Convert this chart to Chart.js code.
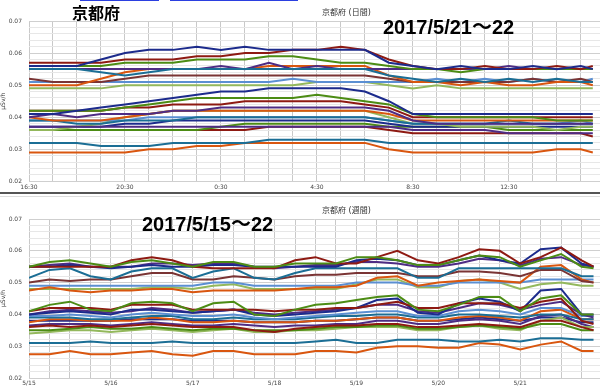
<!DOCTYPE html>
<html>
<head>
<meta charset="utf-8">
<script src="https://cdn.jsdelivr.net/npm/chart.js@4/dist/chart.umd.min.js"></script>
<style>
  html, body { margin: 0; padding: 0; background: #fff; }
  #page { position: relative; width: 600px; height: 390px; overflow: hidden; background: #fff; }
  .panel { position: absolute; left: 0; width: 600px; }
  .big { position: absolute; font-family: "Liberation Sans", "Noto Sans CJK JP", sans-serif; font-weight: bold; color: #000; line-height: 1; white-space: nowrap; }
  .small { position: absolute; font-family: "DejaVu Sans", "Noto Sans CJK JP", sans-serif; font-size: 8px; color: #333; line-height: 1; white-space: nowrap; }
  .bar { position: absolute; }
</style>
</head>
<body>
<div id="page">
  <div class="panel" style="top:0;height:192px"><canvas id="dayChart" width="600" height="192"></canvas></div>
  <div class="panel" style="top:195px;height:195px"><canvas id="weekChart" width="600" height="195"></canvas></div>

  <div class="bar" style="left:80px;top:0;width:79px;height:1px;background:#2b3fe0"></div>
  <div class="bar" style="left:170px;top:0;width:128px;height:1px;background:#2b3fe0"></div>
  <div class="bar" style="left:0;top:192px;width:600px;height:2px;background:#555"></div>
  <div class="bar" style="left:0;top:196px;width:600px;height:1px;background:#ddd"></div>

  <div class="small" style="left:322px;top:9px">京都府 (日間)</div>
  <div class="small" style="left:322px;top:207px">京都府 (週間)</div>
  <div class="big" style="left:72px;top:4px;font-family:'Noto Sans CJK JP',sans-serif;font-size:16px">京都府</div>
  <div class="big" style="left:383px;top:17px;font-size:20px">2017/5/21～22</div>
  <div class="big" style="left:142px;top:214px;font-size:20px">2017/5/15～22</div>
</div>

<script>
// values are in nSv/h (0.001 µSv/h); the axis shows them as µSv/h
const yTickLabels = ['0.02', '0.03', '0.04', '0.05', '0.06', '0.07'];

// ---- daily chart: hours since 5/21 16:30 ----
const dayHours = [0,1,2,3,4,5,6,7,8,9,10,11,12,13,14,15,16,17,18,19,20,21,22,23,23.5];
const dayTickLabels = ['16:30', '20:30', '0:30', '4:30', '8:30', '12:30'];

const dayNavyA     = [56,56,56,58,60,61,61,62,61,62,61,61,61,61,61,57,56,55,56,55,55,56,55,56,55];
const dayRedA      = [57,57,57,57,58,58,58,59,59,60,60,61,61,62,61,58,56,55,55,56,55,55,56,55,56];
const dayGreenA    = [56,56,56,56,57,57,57,58,58,58,59,59,58,57,57,56,55,55,54,55,55,55,55,55,55];
const dayTealA     = [55,55,55,54,53,54,55,55,55,55,55,55,55,55,55,53,52,51,52,51,52,51,52,51,51];
const dayPurpleA   = [55,55,55,55,55,55,55,55,56,55,57,55,56,55,55,55,55,55,55,55,56,55,55,55,55];
const dayOrangeA   = [50,50,50,52,54,55,55,55,55,55,56,56,56,56,56,53,51,51,50,51,50,50,51,51,50];
const dayMaroonA   = [52,51,51,51,52,53,53,53,53,53,53,53,53,53,53,52,51,51,51,51,51,52,51,52,51];
const dayLBlueA    = [51,51,51,51,51,51,51,51,51,51,51,52,51,51,51,51,51,52,51,52,51,52,51,51,52];
const dayLGreenA   = [49,49,49,49,50,50,50,50,50,50,50,50,51,51,51,50,49,50,49,49,49,49,49,49,49];
const dayNavyB     = [41,41,42,43,44,45,46,47,48,48,49,49,49,49,48,45,41,41,41,41,41,41,41,41,41];
const dayGreenB    = [42,42,42,42,43,44,45,46,46,46,46,46,47,46,45,44,41,40,40,40,40,40,39,39,39];
const dayRedB      = [42,42,42,42,43,43,44,44,44,45,45,45,45,45,44,43,40,40,40,40,40,40,40,40,40];
const dayPurpleB   = [40,41,40,41,41,41,42,42,43,43,43,43,43,43,43,42,39,38,38,38,38,38,38,38,38];
const dayPurpleC   = [37,37,37,37,37,37,37,37,37,37,37,37,37,37,37,37,36,36,36,36,35,35,35,35,35];
const dayOrangeB   = [40,39,39,39,40,41,42,42,42,42,42,42,42,42,42,41,39,39,39,39,39,39,39,39,39];
const dayTealB     = [39,39,38,38,39,39,39,40,40,40,40,40,40,40,40,39,38,38,38,38,39,38,38,38,38];
const dayLBlueB    = [39,39,39,39,39,40,40,40,40,40,40,40,40,40,40,39,38,38,38,38,38,38,38,39,38];
const dayLGreenB   = [36,36,37,38,40,41,42,42,42,42,42,42,42,42,42,40,38,38,37,37,37,37,36,37,37];
const dayNavyC     = [37,37,37,37,38,38,39,39,39,39,39,39,39,39,39,38,37,37,37,37,37,37,37,37,37];
const dayGreenC    = [36,36,36,36,36,36,36,36,37,38,38,38,38,38,38,37,37,37,37,37,36,36,36,36,36];
const dayRedC      = [36,36,36,36,36,36,36,36,36,36,37,37,37,37,37,36,35,35,35,35,35,35,35,35,34];
const dayTealC     = [32,32,32,31,31,31,32,32,32,32,33,33,33,33,33,32,32,32,32,32,32,32,32,32,32];
const dayOrangeC   = [29,29,29,29,29,30,30,31,31,32,32,32,32,32,32,30,29,29,29,29,29,29,30,30,29];

// ---- weekly chart: hours since 5/15 0:00 ----
const weekHours = [0,6,12,18,24,30,36,42,48,54,60,66,72,78,84,90,96,102,108,114,120,126,132,138,144,150,156,162,165.5];
const weekTickLabels = ['5/15', '5/16', '5/17', '5/18', '5/19', '5/20', '5/21'];

const wkGreenA   = [55,56.5,57,56,55,56.5,57,56,55,56.5,56.5,55,55,56,56,56,58,58,57,55.5,55.5,57,58.5,58,55,57,59,55,54.5];
const wkRedA     = [55,55,55,55,55,57,58,57,55,54.5,54.5,54.5,54.5,57,58,56,56,58,60,57,56,58,60.5,60,56,58,61,57,55];
const wkNavyA    = [55,55,55.5,55,54.5,55,55.5,55,55,55.5,55.5,55,55,55,55,55,57,57.5,57,55.5,55.5,57,58.5,57,56,60.5,61,56,55];
const wkPurpleA  = [55,55.5,56,55,55,55,56,56,55.5,56,56,55,54.5,55,55.5,55.5,56.5,56.5,56,55,55,56,57.5,57,55.5,57.5,58,55.5,55];
const wkTealA    = [51.5,54,54.5,52,51,53.5,54.5,54.5,51.5,53.5,54.5,51.5,51,53,54.5,54.5,54.5,54.5,54.5,51.5,51.5,54.5,54.5,54.5,54.5,54.5,54.5,52,52];
const wkMaroonA  = [50,51,50.5,51,51,52,53,53,51,51,52,51.5,51,52,52.5,52.5,53,53,53,52,52,53.5,53.5,53,52,54,54,50.5,50];
const wkOrangeA  = [47.5,48.5,47.5,47,47.5,47.5,48,48,47,47.5,47.5,47.5,47.5,48,48.5,48.5,49,51.5,52,49,50,50.5,51,50.5,50,55,55.5,51,50];
const wkLBlueA   = [49,49,49,49,49,49,49,49,49,50,50,49,49,49,49,49,50,50,50,49,49,50,50,50,50,51,51,51,51];
const wkLGreenA  = [48,48,48,48,48,48,48.5,48.5,48,49,49.5,48,48,48,48,48,49.5,51,51,48.5,48.5,50.5,51,50,48,49.5,50,49,49];
const wkGreenB   = [41,43,44,41.5,41,43.5,44,43.5,41,43.5,44,40,39.5,41.5,43,43.5,44.5,45.5,46,41.5,41,43,45.5,45.5,41,45,46,40,40];
const wkRedB     = [41,42,42,42,41.5,43,43,43,41.5,41.5,41.5,41.5,41,41.5,41.5,42,42,43,44,42,42,43.5,43.5,43.5,42,44,45,38,37];
const wkNavyB    = [40,40.5,41,40.5,40,41.5,41.5,41,40.5,41,41.5,40,39.5,40,40.5,41,42,44.5,45,40.5,40,43.5,45,44,41,47.5,48,40,40];
const wkPurpleB  = [40,41,41.5,41,40.5,41,42,41.5,40.5,41,41.5,40.5,40,40.5,41,41.5,42,43,43,41,40.5,42,43.5,43,41.5,43,44,40,39];
const wkLBlueB   = [39.5,39.5,40,39.5,39,40,40.5,40,39.5,39.5,40,39,38.5,39,39.5,40,40.5,41,41,39.5,39.5,41,41.5,41,40,42,42,39.5,39.5];
const wkTealB    = [39,39,39,38.5,38.5,39,39.5,39.5,38.5,38.5,39,38.5,38.5,38.5,39,39.5,39.5,40,40,39,39,40,40,39.5,39,40,40,38.5,38.5];
const wkOrangeB  = [37.5,38.5,38.5,38,38,38,39,38.5,37.5,37.5,38,37.5,37.5,37.5,38,38,38.5,39,39,38,38,39,39.5,39,38,41,41.5,38.5,38.5];
const wkRedC     = [36,36.5,36,36.5,36,36.5,37,36.5,36,36,36,35,34.5,35.5,36,36.5,36.5,37,37,36,36,36.5,37,36.5,36,38,38,36,35];
const wkGreenC   = [35,35,35.5,36,35.5,35.5,36,35.5,35,35.5,35.5,35,35,35,35.5,36,36,36.5,36.5,35.5,35.5,36,36.5,36,35.5,37,37,35,35];
const wkLGreenB  = [34,34.5,35,35,34.5,35,35.5,35,34.5,35,35.5,34.5,34.5,35,35,35.5,36,36,36,35,35,36,36.5,35.5,35,38,39,36,36];
const wkPurpleC  = [36.5,37,37,37,36.5,37,37.5,37,36.5,36.5,37,36.5,36,36.5,36.5,37,37,38,38,37,37,38,38.5,38,37,39.5,40,37,36];
const wkNavyC    = [38,38,38,38,38,38.5,38.5,38.5,38,38,38,37.5,37.5,37.5,38,38,38.5,39,39,38,38,38.5,39,38.5,38,39,39,37.5,37.5];
const wkTealC    = [31,31,31,31.5,31,31,31,31.5,31,31,31,31,31,31,31.5,32,31,31,32,32,32,31.5,31.5,32,31.5,32.5,32.5,32,32];
const wkOrangeC  = [27.5,27.5,28.5,27.5,27.5,28,28.5,27.5,27,28.5,28.5,27.5,27.5,27.5,28.5,28.5,28,29.5,30,30,29.5,29.5,31,30.5,29,30.5,31.5,28.5,28.5];

const NAVY = '#1c2b8c', RED = '#8e1a12', GREEN = '#4c8c14', TEAL = '#1b6e95', ORANGE = '#d9560f',
      PURPLE = '#4e2c84', MAROON = '#7a3434', LBLUE = '#5b8fd2', LGREEN = '#93b85c';

function series(hours, values, color) {
    return {
        data: hours.map((h, i) => ({ x: h, y: values[i] })),
        borderColor: color,
        borderWidth: 2,
        pointRadius: 0,
        tension: 0,
        fill: false
    };
}

function makeChart(canvasId, hours, list, xOpts, padTop, xHeight) {
    new Chart(document.getElementById(canvasId), {
        type: 'line',
        data: { datasets: list.map(([vals, color]) => series(hours, vals, color)) },
        options: {
            responsive: false,
            animation: false,
            layout: { padding: { top: padTop, right: 0, left: 0, bottom: 0 } },
            plugins: { legend: { display: false }, tooltip: { enabled: false } },
            scales: {
                x: {
                    type: 'linear',
                    min: 0,
                    max: xOpts.max,
                    border: { display: false },
                    grid: { color: '#c9c9c9', lineWidth: 1, drawTicks: false },
                    ticks: {
                        stepSize: xOpts.step,
                        includeBounds: false,
                        autoSkip: false,
                        maxRotation: 0,
                        padding: 2,
                        color: '#444',
                        font: { family: 'DejaVu Sans', size: 6 },
                        callback: v => (v % xOpts.every === 0 ? xOpts.labels[v / xOpts.every] || '' : '')
                    },
                    afterFit: s => { s.height = xHeight; }
                },
                y: {
                    min: 20,
                    max: 70,
                    border: { display: false },
                    grid: {
                        drawTicks: false,
                        color: c => (c.tick.value % 10 === 0 ? '#cfcfcf' : '#e7e7e7'),
                        lineWidth: 1
                    },
                    title: { display: true, text: 'μSv/h', color: '#333', font: { family: 'DejaVu Sans', size: 6 }, padding: 0 },
                    ticks: {
                        stepSize: 2,
                        autoSkip: false,
                        padding: 7,
                        color: '#444',
                        font: { family: 'DejaVu Sans', size: 6 },
                        callback: v => (v % 10 === 0 ? yTickLabels[(v - 20) / 10] : '')
                    },
                    afterFit: s => { s.width = 29; }
                }
            }
        }
    });
}

makeChart('dayChart', dayHours, [
    [dayNavyA, NAVY], [dayRedA, RED], [dayGreenA, GREEN], [dayTealA, TEAL], [dayPurpleA, PURPLE],
    [dayOrangeA, ORANGE], [dayMaroonA, MAROON], [dayLBlueA, LBLUE], [dayLGreenA, LGREEN],
    [dayNavyB, NAVY], [dayGreenB, GREEN], [dayRedB, RED], [dayPurpleB, PURPLE], [dayPurpleC, PURPLE],
    [dayOrangeB, ORANGE], [dayTealB, TEAL], [dayLBlueB, LBLUE], [dayLGreenB, LGREEN], [dayNavyC, NAVY],
    [dayGreenC, GREEN], [dayRedC, RED], [dayTealC, TEAL], [dayOrangeC, ORANGE]
], { max: 23.8, step: 1, every: 4, labels: dayTickLabels }, 21, 10);

makeChart('weekChart', weekHours, [
    [wkGreenA, GREEN], [wkRedA, RED], [wkNavyA, NAVY], [wkPurpleA, PURPLE], [wkTealA, TEAL],
    [wkMaroonA, MAROON], [wkOrangeA, ORANGE], [wkLBlueA, LBLUE], [wkLGreenA, LGREEN],
    [wkGreenB, GREEN], [wkRedB, RED], [wkNavyB, NAVY], [wkPurpleB, PURPLE], [wkLBlueB, LBLUE],
    [wkTealB, TEAL], [wkOrangeB, ORANGE], [wkRedC, RED], [wkGreenC, GREEN], [wkLGreenB, LGREEN],
    [wkPurpleC, PURPLE], [wkNavyC, NAVY], [wkTealC, TEAL], [wkOrangeC, ORANGE]
], { max: 167.4, step: 6, every: 24, labels: weekTickLabels }, 24, 12);
</script>
</body>
</html>
